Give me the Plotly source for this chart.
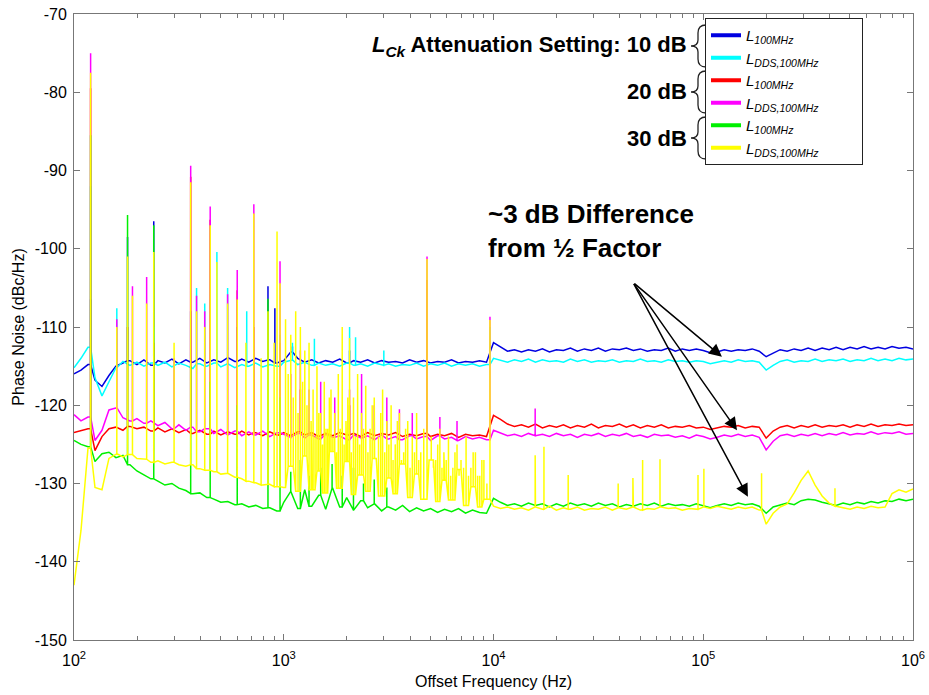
import numpy as np
import plotly.graph_objects as go

# ---------------- data ----------------
# baseline sample grid: 100 Hz .. 1 MHz, 30 points per decade
FREQ = np.logspace(2, 6, 121)

BLUE = [
    -116.0, -115.5, -114.8, -116.8, -117.6, -116.2, -115.0, -114.6, -114.3, -114.8,
    -114.2, -114.9, -114.3, -114.6, -114.1, -114.7, -114.2, -114.5, -114.0, -114.6,
    -114.2, -114.5, -113.9, -114.4, -114.1, -114.5, -114.0, -114.4, -114.2, -114.6,
    -114.3, -113.2, -114.0, -114.5, -114.2, -114.6, -114.3, -114.5, -114.1, -114.6,
    -114.3, -114.5, -114.2, -114.6, -114.3, -114.5, -114.4, -114.6, -114.2, -114.5,
    -114.3, -114.6, -114.4, -114.5, -114.2, -114.6, -114.4, -114.5, -114.3, -114.5,
    -112.0, -112.6, -113.1, -112.9, -113.2, -112.9, -113.1, -112.8, -113.2, -112.9,
    -113.0, -112.7, -113.1, -112.8, -113.0, -112.7, -113.1, -112.8, -112.9, -112.7,
    -113.0, -112.8, -113.1, -112.9, -113.0, -112.7, -113.1, -112.8, -113.0, -112.8,
    -113.0, -113.3, -113.2, -112.9, -113.1, -112.9, -113.0, -112.8, -113.1, -113.8,
    -113.4, -112.9, -113.1, -112.8, -113.0, -112.7, -113.0, -112.7, -112.9, -112.6,
    -112.9, -112.6, -112.8, -112.5, -112.8, -112.6, -112.8, -112.5, -112.7, -112.6,
    -112.8]
CYAN = [
    -115.2, -114.0, -112.6, -116.5, -118.8, -117.0, -115.2, -114.4, -114.9, -114.5,
    -115.0, -114.6, -114.9, -114.5, -115.1, -114.6, -114.9, -115.3, -114.7, -115.0,
    -114.6, -115.1, -114.7, -115.2, -114.8, -115.0, -114.6, -115.1, -114.8, -115.0,
    -114.5, -114.2, -114.8, -114.5, -114.9, -114.6, -114.9, -114.7, -115.0, -114.6,
    -114.9, -114.7, -115.0, -114.6, -114.9, -114.7, -115.0, -114.8, -114.9, -114.6,
    -115.0, -114.7, -114.9, -114.6, -115.0, -114.7, -114.9, -114.7, -115.0, -114.8,
    -114.0, -114.3, -114.5, -114.2, -114.4, -114.1, -114.5, -114.2, -114.4, -114.3,
    -114.5, -114.1, -114.4, -114.2, -114.5, -114.3, -114.4, -114.2, -114.5, -114.3,
    -114.4, -114.1, -114.4, -114.3, -114.5, -114.2, -114.4, -114.3, -114.5, -114.3,
    -114.4, -114.7, -114.5, -114.3, -114.5, -114.2, -114.4, -114.3, -114.5, -115.5,
    -114.9, -114.4, -114.2, -114.5, -114.3, -114.4, -114.1, -114.4, -114.2, -114.3,
    -114.1, -114.4, -114.2, -114.3, -114.0, -114.3, -114.1, -114.3, -114.0, -114.2,
    -114.1]
RED = [
    -123.5, -123.2, -123.0, -125.8, -124.0, -123.0, -122.8, -123.2, -122.7, -123.0,
    -122.8, -123.3, -122.9, -123.4, -123.0, -123.5, -123.1, -123.6, -123.2, -123.7,
    -123.3, -123.8, -123.4, -123.7, -123.3, -123.8, -123.5, -123.9, -123.4, -123.8,
    -123.5, -123.9, -123.4, -123.8, -123.5, -124.0, -123.6, -123.9, -123.5, -123.8,
    -123.6, -124.0, -123.5, -123.9, -123.6, -123.8, -123.5, -124.0, -123.7, -123.9,
    -123.6, -124.0, -123.7, -123.9, -123.6, -124.1, -123.7, -123.9, -123.8, -124.0,
    -121.3, -121.8, -122.4, -122.7, -122.5, -122.8, -122.4, -122.9, -122.6, -122.8,
    -122.5, -122.9, -122.6, -122.8, -122.4, -122.9, -122.6, -122.7, -122.4, -122.8,
    -122.5, -122.9, -122.6, -122.8, -122.5, -122.9, -122.7, -122.8, -122.6, -122.9,
    -122.8, -123.1, -122.9, -122.7, -122.8, -122.6, -122.9, -122.7, -122.8, -124.2,
    -123.3, -122.8, -122.6, -122.9, -122.6, -122.8, -122.5, -122.8, -122.6, -122.7,
    -122.5, -122.8, -122.5, -122.7, -122.4, -122.7, -122.5, -122.6, -122.4, -122.6,
    -122.5]
MAGENTA = [
    -121.2, -122.0, -121.5, -124.5, -123.2, -120.6, -120.3, -121.6, -122.0, -121.7,
    -122.3, -122.0, -122.6, -122.2, -123.0, -122.5, -123.2, -122.8, -123.4, -123.0,
    -123.6, -123.1, -123.8, -123.3, -123.9, -123.4, -123.8, -123.3, -124.0, -123.5,
    -123.7, -124.1, -123.6, -124.2, -123.8, -124.3, -123.7, -124.1, -123.9, -124.4,
    -123.8, -124.2, -123.9, -124.4, -123.8, -124.3, -124.0, -124.4, -123.9, -124.3,
    -124.0, -124.5, -123.9, -124.3, -124.1, -124.5, -124.0, -124.3, -124.1, -124.4,
    -123.2, -123.6, -123.9, -123.7, -124.0, -123.6, -123.9, -123.7, -124.0, -123.6,
    -123.9, -123.7, -124.1, -123.7, -123.9, -123.6, -124.0, -123.7, -123.9, -123.6,
    -124.0, -123.8, -124.1, -123.7, -123.9, -123.8, -124.1, -123.9, -124.2, -123.8,
    -124.0, -124.3, -124.1, -123.8, -124.0, -123.7, -124.0, -123.8, -124.1, -125.7,
    -124.6, -123.9, -123.7, -124.0, -123.7, -123.9, -123.6, -123.9, -123.6, -123.8,
    -123.5, -123.8, -123.6, -123.7, -123.4, -123.7, -123.5, -123.6, -123.4, -123.7,
    -123.6]
GREEN = [
    -124.5, -125.0, -125.3, -127.2, -126.2, -126.0, -126.7, -126.4, -127.6, -128.4,
    -128.9, -129.4, -129.7, -130.2, -130.0, -130.6, -130.9, -131.3, -131.2, -131.8,
    -132.0, -132.4, -132.3, -132.7, -132.6, -133.0, -132.8, -133.2, -133.1, -133.5,
    -132.4, -131.0, -133.2, -130.8, -132.9, -131.5, -133.3, -130.6, -133.0, -131.8,
    -133.4, -132.2, -133.1, -132.6, -133.5, -133.0, -133.4, -132.8, -133.6, -133.1,
    -133.5, -133.2, -133.7, -133.3, -133.6, -133.2, -133.8, -133.4, -133.7, -133.8,
    -131.9, -132.4, -132.8, -132.6, -132.9, -132.5, -132.8, -132.6, -133.0, -132.6,
    -132.9, -132.5, -132.8, -132.6, -132.9, -132.5, -132.8, -132.6, -133.0, -132.7,
    -132.9, -132.6, -132.8, -132.5, -132.9, -132.6, -132.8, -132.7, -132.9, -132.6,
    -132.9, -133.1, -132.8, -132.6, -132.8, -132.5, -132.7, -132.6, -132.9, -133.8,
    -133.0, -132.7, -132.5, -132.7, -132.2, -132.0, -132.1, -132.4, -132.6, -132.8,
    -132.5, -132.7, -132.4, -132.6, -132.3, -132.5, -132.2, -132.3, -132.0, -132.2,
    -132.0]
YELLOW = [
    -143.0, -136.0, -125.5, -130.5, -130.8, -126.8, -126.2, -126.6, -126.3, -126.8,
    -126.9, -127.3, -127.1, -127.5, -127.3, -127.6, -127.8, -127.6, -128.1, -128.3,
    -128.5, -128.8, -128.7, -129.2, -129.4, -129.7, -129.9, -130.2, -130.1, -130.4,
    -130.5, -127.8, -131.0, -126.5, -130.8, -128.4, -131.2, -125.9, -130.6, -127.2,
    -131.4, -128.9, -131.0, -126.8, -131.6, -129.3, -131.3, -127.5, -131.8, -128.8,
    -132.0, -127.0, -132.3, -129.6, -132.1, -128.2, -132.8, -130.4, -133.0, -132.0,
    -132.9, -133.2, -133.0, -133.3, -133.1, -133.4, -133.0, -133.3, -132.9, -133.4,
    -133.1, -133.3, -133.0, -133.4, -133.2, -133.3, -133.0, -133.4, -133.1, -133.3,
    -133.0, -133.4, -133.2, -133.3, -133.0, -133.2, -133.1, -133.4, -133.2, -133.3,
    -133.0, -133.2, -132.9, -133.1, -133.3, -133.0, -133.2, -133.0, -133.4, -135.2,
    -133.8, -133.0, -132.6, -131.2, -129.6, -128.4, -130.2, -131.6, -132.5, -132.9,
    -133.1, -133.3, -133.0, -133.2, -132.9, -133.1, -133.0, -131.3, -130.8, -131.1,
    -130.7]

# spurs (frequency in Hz, peak level in dBc/Hz)
BLUE_SPUR_F = [120, 180, 240, 360, 600, 841, 907, 1100, 2060]
BLUE_SPUR_V = [-106.5, -98.5, -96.5, -108, -110, -104.8, -107.6, -112.5, -113]
CYAN_SPUR_F = [120, 160, 240, 384, 420, 480, 540, 666, 960, 1100, 1400, 2060, 2200, 3000, 9620]
CYAN_SPUR_V = [-92, -107.6, -110, -105, -107, -100.4, -105, -108, -111, -112, -111.5,
               -110, -111.3, -113, -110]
RED_SPUR_F = [120, 180, 240, 360, 446, 600, 720, 960, 1200, 2060, 4820]
RED_SPUR_V = [-79.5, -110, -112, -90.8, -96.3, -105.3, -110, -112, -118, -120, -104]
MAGENTA_SPUR_F = [120, 160, 190, 222, 300, 360, 384, 420, 446, 540, 600, 720, 960,
                  1080, 1200, 1320, 1500, 1750, 2060, 2350, 2700, 3100, 3560, 4100,
                  4820, 5550, 6700, 9620, 15800]
MAGENTA_SPUR_V = [-75, -109, -104.8, -103.6, -114, -89.4, -106, -108, -94.6, -105.8,
                  -102.7, -94.3, -101.6, -116, -113, -118, -117, -119, -118, -116,
                  -120, -119, -120.5, -121, -101, -121.5, -122, -108.7, -120.4]
GREEN_SPUR_F = [120, 180, 240, 360, 446, 600, 841, 960, 1080, 1200, 1320, 1500, 1700,
                1900, 2150, 2400, 2700, 3100]
GREEN_SPUR_V = [-85.5, -95.7, -97, -115, -117, -120, -106.4, -119, -128.5, -127, -129,
                -128, -127.5, -129, -128, -130, -129.5, -130.5]
YELLOW_SPUR_F = [120, 160, 180, 190, 222, 240, 300, 360, 384, 420, 446, 480, 540, 600,
                 660, 720, 780, 841, 900, 929, 960,
                 1020, 1050, 1080, 1110, 1140, 1170, 1200, 1230, 1260, 1290, 1320, 1350,
                 1380, 1410, 1440, 1470, 1500, 1530, 1560, 1590, 1620, 1650, 1680, 1715,
                 1750, 1785, 1820, 1860, 1900, 1940, 1980, 2020, 2060, 2100, 2150, 2200,
                 2250, 2300, 2350, 2400, 2460, 2520, 2580, 2640, 2700, 2760, 2830, 2900,
                 2960, 3030, 3100, 3170, 3250, 3320, 3400, 3480, 3560, 3640, 3730, 3810,
                 3900, 4000, 4100, 4200, 4300, 4400, 4500, 4650, 4820, 4930, 5050, 5170,
                 5300, 5420, 5550, 5680, 5800, 5950, 6100, 6250, 6400, 6550, 6700, 6850,
                 7000, 7200, 7400, 7600, 7800, 8000, 8200, 8400, 8600, 8800, 9000, 9300,
                 9620,
                 15800, 17400, 22700, 39300, 46200, 51400, 62200, 94400, 100700,
                 189700, 424600]
YELLOW_SPUR_V = [-77.5, -110, -101, -106, -107, -100.4, -112, -91.5, -108, -110, -97,
                 -101.7, -107, -106.5, -112, -95.5, -114, -108, -112, -97.8, -104.4,
                 -109, -116, -111, -119, -108, -121, -110, -117, -113, -120, -112, -122,
                 -118, -124, -115, -121, -121, -125, -117, -123, -123, -119, -118, -124,
                 -121, -126, -116, -123, -110, -125, -122, -119, -111.4, -126, -119,
                 -124, -116, -125, -121, -123, -117.5, -126, -123, -120, -119, -127,
                 -124, -121, -118, -126, -122, -125, -120, -127, -125, -122, -121, -127,
                 -126, -123, -122, -128, -124, -126, -121, -127, -126, -123, -101.3,
                 -127, -124, -128, -127, -125, -123, -128, -126, -127, -124, -129, -128,
                 -126, -125, -129, -127, -128, -124, -129, -128, -126, -126, -129, -129,
                 -127, -127, -130, -109.1,
                 -126.4, -125.3, -128.9, -130.0, -129.3, -127.0, -126.9, -128.9, -128.1,
                 -128.7, -130.6]

Y_TICKS = [-150, -140, -130, -120, -110, -100, -90, -80, -70]
Y_TICK_TEXT = ["-150", "-140", "-130", "-120", "-110", "-100", "-90", "-80", "-70"]
X_TICKS = [1e2, 1e3, 1e4, 1e5, 1e6]
X_TICK_TEXT = ["10<sup>2</sup>", "10<sup>3</sup>", "10<sup>4</sup>",
               "10<sup>5</sup>", "10<sup>6</sup>"]

NAME_L = "<i>L</i><sub><i>100MHz</i></sub>"
NAME_DDS = "<i>L</i><sub><i>DDS,100MHz</i></sub>"
PAD = "&nbsp;" * 9

SERIES = [
    (NAME_L, "rgb(0,0,225)", BLUE, BLUE_SPUR_F, BLUE_SPUR_V),
    (NAME_DDS, "rgb(0,255,255)", CYAN, CYAN_SPUR_F, CYAN_SPUR_V),
    (NAME_L, "rgb(255,0,0)", RED, RED_SPUR_F, RED_SPUR_V),
    (NAME_DDS, "rgb(255,0,255)", MAGENTA, MAGENTA_SPUR_F, MAGENTA_SPUR_V),
    (NAME_L, "rgb(0,240,0)", GREEN, GREEN_SPUR_F, GREEN_SPUR_V),
    (NAME_DDS, "rgb(255,255,0)", YELLOW, YELLOW_SPUR_F, YELLOW_SPUR_V),
]

LOGF = np.log10(FREQ)


def build(vals, spur_f, spur_v):
    pts = [(float(f), float(v)) for f, v in zip(FREQ, vals)]
    for f, v in zip(spur_f, spur_v):
        i = int(np.argmin(np.abs(LOGF - np.log10(f))))
        b = vals[i]
        pts += [(f * 0.99995, b), (f, v), (f * 1.00005, b)]
    pts.sort(key=lambda p: p[0])
    return [p[0] for p in pts], [p[1] for p in pts]


fig = go.Figure()
for name, color, vals, sf, sv in SERIES:
    x, y = build(vals, sf, sv)
    fig.add_trace(go.Scatter(x=x, y=y, mode="lines", showlegend=False,
                             line=dict(color=color, width=1.5), hoverinfo="skip"))
# legend entries (thick samples)
for name, color, vals, sf, sv in SERIES:
    fig.add_trace(go.Scatter(x=[None], y=[None], mode="lines", name=name + PAD,
                             line=dict(color=color, width=4)))

# body margin is removed by the post script, so the figure sits at (0, 0)
W, H = 929, 695
L, R, T, B = 74, 16, 14, 55
PW, PH = W - L - R, H - T - B


def px(x):
    return (x - L) / PW


def py(y):
    return 1 - (y - T) / PH


FONT = "Liberation Sans, Arial, sans-serif"
minor_vals = [m * 10 ** d for d in range(2, 6) for m in range(2, 10)]

fig.update_layout(
    width=W, height=H,
    margin=dict(l=L, r=R, t=T, b=B, autoexpand=False),
    paper_bgcolor="white", plot_bgcolor="white",
    font=dict(family=FONT, size=15, color="black"),
    legend=dict(x=px(705), y=py(18), xanchor="left", yanchor="top",
                bordercolor="#222", borderwidth=1, bgcolor="white",
                font=dict(family=FONT, size=15), itemwidth=30,
                tracegroupgap=0),
    xaxis=dict(type="log", range=[2, 6], showgrid=False, zeroline=False,
               automargin=False, ticklabeloverflow="allow", ticklabelstandoff=6,
               showline=True, linecolor="#777", linewidth=1, mirror="ticks",
               ticks="inside", ticklen=6, tickcolor="#777",
               tickvals=X_TICKS, ticktext=X_TICK_TEXT,
               tickfont=dict(size=16),
               minor=dict(tickvals=minor_vals, ticks="inside", ticklen=4,
                          tickcolor="#777", showgrid=False),
               title=dict(text="Offset Frequency (Hz)", font=dict(size=16), standoff=7)),
    yaxis=dict(range=[-150, -70], showgrid=False, zeroline=False,
               automargin=False, ticklabeloverflow="allow", ticklabelstandoff=3,
               showline=True, linecolor="#777", linewidth=1, mirror="ticks",
               ticks="inside", ticklen=6, tickcolor="#777",
               tickvals=Y_TICKS, ticktext=Y_TICK_TEXT,
               tickfont=dict(size=16),
               title=dict(text="Phase Noise (dBc/Hz)", font=dict(size=16), standoff=6)),
)

ann = []
ann.append(dict(xref="paper", yref="paper", x=px(689), y=py(46), xanchor="right",
                yanchor="middle", showarrow=False,
                text="<b><i>L</i><sub><i>Ck</i></sub> Attenuation Setting: 10 dB</b>",
                font=dict(family=FONT, size=22)))
for yy, t in [(92, "<b>20 dB</b>"), (138, "<b>30 dB</b>")]:
    ann.append(dict(xref="paper", yref="paper", x=px(689), y=py(yy), xanchor="right",
                    yanchor="middle", showarrow=False, text=t,
                    font=dict(family=FONT, size=22)))
ann.append(dict(xref="paper", yref="paper", x=px(486), y=py(231), xanchor="left",
                yanchor="middle", showarrow=False, align="left",
                text="<b>~3 dB Difference<br>from ½ Factor</b>",
                font=dict(family=FONT, size=26)))
# arrows (positions in log10(Hz), dBc/Hz)
TAIL = (4.665, -104.3)
for hx, hy in [(5.089, -113.8), (5.161, -123.2), (5.213, -131.7)]:
    ann.append(dict(xref="x", yref="y", x=hx, y=hy, axref="x", ayref="y",
                    ax=TAIL[0], ay=TAIL[1], showarrow=True, arrowhead=2,
                    arrowsize=1.7, arrowwidth=1.5, arrowcolor="black", text=""))


def brace(cy):
    pts = lambda x, y: f"{px(x):.5f},{py(y):.5f}"
    return ("M " + pts(706, cy - 21) + " Q " + pts(698, cy - 21) + " " + pts(698, cy - 13)
            + " L " + pts(698, cy - 6) + " Q " + pts(698, cy) + " " + pts(691, cy)
            + " Q " + pts(698, cy) + " " + pts(698, cy + 6)
            + " L " + pts(698, cy + 13) + " Q " + pts(698, cy + 21) + " " + pts(706, cy + 21))


shapes = [dict(type="path", xref="paper", yref="paper", path=brace(cy),
               line=dict(color="#222", width=1.3)) for cy in [46, 92, 138]]

fig.update_layout(annotations=ann, shapes=shapes)

fig.write_html("out.html",
               config={"displayModeBar": False},
               post_script="document.body.style.margin='0px';")
